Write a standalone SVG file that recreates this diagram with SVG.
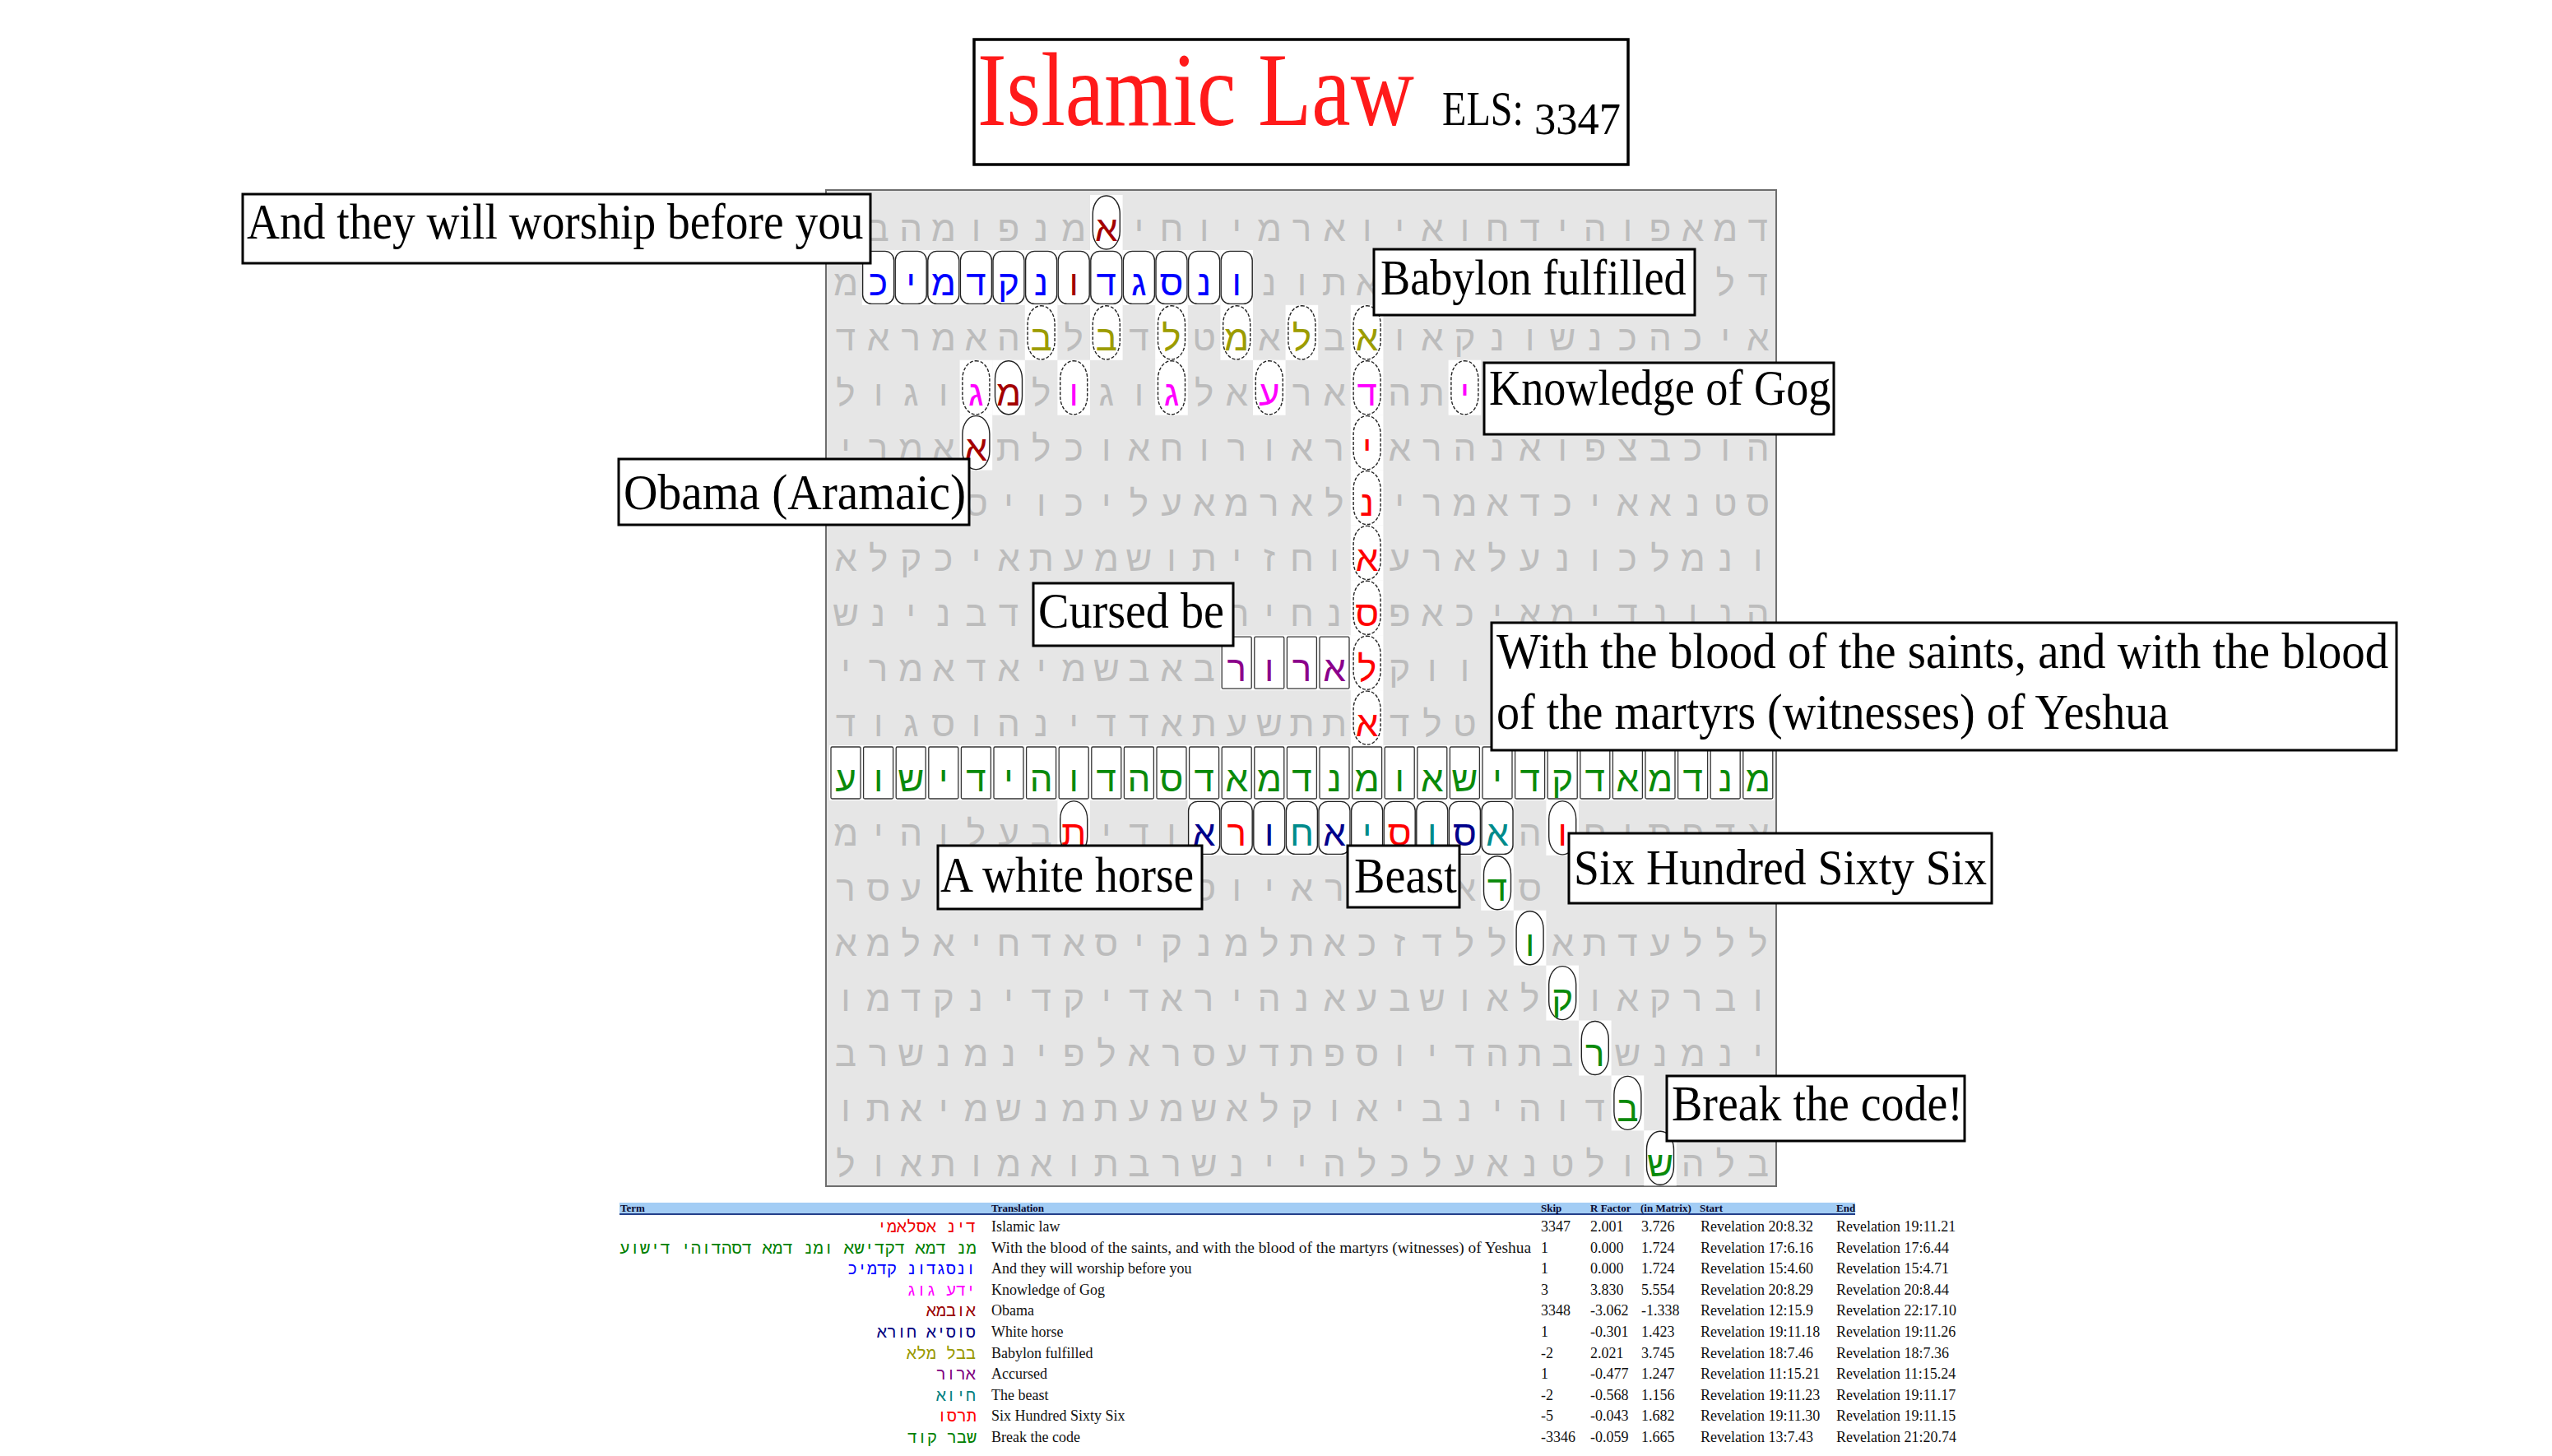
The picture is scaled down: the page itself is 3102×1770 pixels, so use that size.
<svg xmlns="http://www.w3.org/2000/svg" xmlns:xlink="http://www.w3.org/1999/xlink" width="3102" height="1770" viewBox="0 0 3102 1770">
<style>
.gl{font-family:"Liberation Sans","DejaVu Sans",sans-serif;font-size:44px;text-anchor:middle;fill:#bcbcbc}
.R{fill:#ff0000}.O{fill:#a30000}.B{fill:#0000ff}.Y{fill:#9c9c00}.M{fill:#ff00ff}.P{fill:#8b008b}.G{fill:#0a8a0a}.N{fill:#00008b}.T{fill:#008b8b}
.lb{fill:#fff;stroke:#000;stroke-width:3}
.lt{font-family:"Liberation Serif",serif;font-size:62px;fill:#000}
.tb{font-family:"Liberation Serif",serif;font-size:18px;fill:#111}
.th{font-family:"Liberation Serif",serif;font-size:13px;font-weight:bold;fill:#0a0a30}
.hb{font-family:"Liberation Mono","DejaVu Sans Mono",monospace;font-size:20px;text-anchor:end}
</style>
<defs>
<g id="ov"><rect x="-19.8" y="-33.5" width="39.6" height="67" fill="#fff"/><rect x="-16.5" y="-32.5" width="33" height="65" rx="16" ry="22" fill="none" stroke="#222" stroke-width="1.4"/></g>
<g id="od"><rect x="-19.8" y="-33.5" width="39.6" height="67" fill="#fff"/><rect x="-16.5" y="-32.5" width="33" height="65" rx="16" ry="22" fill="none" stroke="#222" stroke-width="1.4" stroke-dasharray="4 2"/></g>
<g id="bx"><rect x="-19.8" y="-33.5" width="39.6" height="67" fill="#fff"/><rect x="-18" y="-31.5" width="36" height="63" rx="1.5" fill="none" stroke="#333" stroke-width="1.3"/></g>
<g id="rb"><rect x="-19.8" y="-33.5" width="39.6" height="67" fill="#fff"/><rect x="-19" y="-32" width="38" height="64" rx="11" fill="none" stroke="#222" stroke-width="1.4"/></g>
</defs>
<rect width="3102" height="1770" fill="#fff"/>

<g id="title">
<rect x="1184" y="48" width="795" height="152" fill="#fff" stroke="#000" stroke-width="3.5"/>
<text transform="translate(1188,152) scale(0.841,1)" font-family="Liberation Serif,serif" font-size="127" fill="#ff1a1a">Islamic Law</text>
<text transform="translate(1753,152) scale(0.802,1)" font-family="Liberation Serif,serif" font-size="60" fill="#000">ELS:</text>
<text transform="translate(1865,163) scale(0.9375,1)" font-family="Liberation Serif,serif" font-size="56" fill="#000">3347</text>
</g>

<g id="matrix">
<rect x="1004" y="231" width="1155" height="1211" fill="#e6e6e6" stroke="#6e6e6e" stroke-width="2"/>
<g id="highlights">
<use xlink:href="#ov" x="1344.8" y="270.5"/>
<use xlink:href="#rb" x="1067.6" y="337.4"/><use xlink:href="#rb" x="1107.2" y="337.4"/><use xlink:href="#rb" x="1146.8" y="337.4"/><use xlink:href="#rb" x="1186.4" y="337.4"/><use xlink:href="#rb" x="1226" y="337.4"/><use xlink:href="#rb" x="1265.6" y="337.4"/><use xlink:href="#rb" x="1305.2" y="337.4"/><use xlink:href="#rb" x="1344.8" y="337.4"/><use xlink:href="#rb" x="1384.4" y="337.4"/><use xlink:href="#rb" x="1424" y="337.4"/><use xlink:href="#rb" x="1463.6" y="337.4"/><use xlink:href="#rb" x="1503.2" y="337.4"/>
<use xlink:href="#od" x="1265.6" y="404.3"/><use xlink:href="#od" x="1344.8" y="404.3"/><use xlink:href="#od" x="1424" y="404.3"/><use xlink:href="#od" x="1503.2" y="404.3"/><use xlink:href="#od" x="1582.4" y="404.3"/><use xlink:href="#od" x="1661.6" y="404.3"/>
<use xlink:href="#od" x="1186.4" y="471.2"/><use xlink:href="#ov" x="1226" y="471.2"/><use xlink:href="#od" x="1305.2" y="471.2"/><use xlink:href="#od" x="1424" y="471.2"/><use xlink:href="#od" x="1542.8" y="471.2"/><use xlink:href="#od" x="1661.6" y="471.2"/><use xlink:href="#od" x="1780.4" y="471.2"/>
<use xlink:href="#ov" x="1186.4" y="538.1"/><use xlink:href="#od" x="1661.6" y="538.1"/>
<use xlink:href="#od" x="1661.6" y="605"/><use xlink:href="#od" x="1661.6" y="671.9"/><use xlink:href="#od" x="1661.6" y="738.8"/><use xlink:href="#od" x="1661.6" y="805.7"/><use xlink:href="#od" x="1661.6" y="872.6"/>
<use xlink:href="#bx" x="1503.2" y="805.7"/><use xlink:href="#bx" x="1542.8" y="805.7"/><use xlink:href="#bx" x="1582.4" y="805.7"/><use xlink:href="#bx" x="1622" y="805.7"/>
<use xlink:href="#bx" x="1028" y="939.5"/><use xlink:href="#bx" x="1067.6" y="939.5"/><use xlink:href="#bx" x="1107.2" y="939.5"/><use xlink:href="#bx" x="1146.8" y="939.5"/><use xlink:href="#bx" x="1186.4" y="939.5"/><use xlink:href="#bx" x="1226" y="939.5"/><use xlink:href="#bx" x="1265.6" y="939.5"/><use xlink:href="#bx" x="1305.2" y="939.5"/><use xlink:href="#bx" x="1344.8" y="939.5"/><use xlink:href="#bx" x="1384.4" y="939.5"/><use xlink:href="#bx" x="1424" y="939.5"/><use xlink:href="#bx" x="1463.6" y="939.5"/><use xlink:href="#bx" x="1503.2" y="939.5"/><use xlink:href="#bx" x="1542.8" y="939.5"/><use xlink:href="#bx" x="1582.4" y="939.5"/><use xlink:href="#bx" x="1622" y="939.5"/><use xlink:href="#bx" x="1661.6" y="939.5"/><use xlink:href="#bx" x="1701.2" y="939.5"/><use xlink:href="#bx" x="1740.8" y="939.5"/><use xlink:href="#bx" x="1780.4" y="939.5"/><use xlink:href="#bx" x="1820" y="939.5"/><use xlink:href="#bx" x="1859.6" y="939.5"/><use xlink:href="#bx" x="1899.2" y="939.5"/><use xlink:href="#bx" x="1938.8" y="939.5"/><use xlink:href="#bx" x="1978.4" y="939.5"/><use xlink:href="#bx" x="2018" y="939.5"/><use xlink:href="#bx" x="2057.6" y="939.5"/><use xlink:href="#bx" x="2097.2" y="939.5"/><use xlink:href="#bx" x="2136.8" y="939.5"/>
<use xlink:href="#ov" x="1305.2" y="1006.4"/>
<use xlink:href="#rb" x="1463.6" y="1006.4"/><use xlink:href="#rb" x="1503.2" y="1006.4"/><use xlink:href="#rb" x="1542.8" y="1006.4"/><use xlink:href="#rb" x="1582.4" y="1006.4"/><use xlink:href="#rb" x="1622" y="1006.4"/><use xlink:href="#rb" x="1661.6" y="1006.4"/><use xlink:href="#rb" x="1701.2" y="1006.4"/><use xlink:href="#rb" x="1740.8" y="1006.4"/><use xlink:href="#rb" x="1780.4" y="1006.4"/><use xlink:href="#rb" x="1820" y="1006.4"/>
<use xlink:href="#ov" x="1899.2" y="1006.4"/>
<use xlink:href="#ov" x="1820" y="1073.3"/><use xlink:href="#ov" x="1859.6" y="1140.2"/><use xlink:href="#ov" x="1899.2" y="1207.1"/><use xlink:href="#ov" x="1938.8" y="1274"/><use xlink:href="#ov" x="1978.4" y="1340.9"/><use xlink:href="#ov" x="2018" y="1407.8"/>
</g>
<g class="gl">
<g transform="translate(0,292.5)"><text x="1067.6">ב</text><text x="1107.2">ה</text><text x="1146.8">מ</text><text x="1186.4">ו</text><text x="1226">פ</text><text x="1265.6">נ</text><text x="1305.2">מ</text><text x="1344.8" class="O">א</text><text x="1384.4">י</text><text x="1424">ח</text><text x="1463.6">ו</text><text x="1503.2">י</text><text x="1542.8">מ</text><text x="1582.4">ר</text><text x="1622">א</text><text x="1661.6">ו</text><text x="1701.2">י</text><text x="1740.8">א</text><text x="1780.4">ו</text><text x="1820">ח</text><text x="1859.6">ד</text><text x="1899.2">י</text><text x="1938.8">ה</text><text x="1978.4">ו</text><text x="2018">פ</text><text x="2057.6">א</text><text x="2097.2">מ</text><text x="2136.8">ד</text></g>
<g transform="translate(0,359.4)"><text x="1028">מ</text><text x="1067.6" class="B">כ</text><text x="1107.2" class="B">י</text><text x="1146.8" class="B">מ</text><text x="1186.4" class="B">ד</text><text x="1226" class="B">ק</text><text x="1265.6" class="B">נ</text><text x="1305.2" class="O">ו</text><text x="1344.8" class="B">ד</text><text x="1384.4" class="B">ג</text><text x="1424" class="B">ס</text><text x="1463.6" class="B">נ</text><text x="1503.2" class="B">ו</text><text x="1542.8">נ</text><text x="1582.4">ו</text><text x="1622">ת</text><text x="1661.6">א</text><text x="2057.6">ו</text><text x="2097.2">ל</text><text x="2136.8">ד</text></g>
<g transform="translate(0,426.3)"><text x="1028">ד</text><text x="1067.6">א</text><text x="1107.2">ר</text><text x="1146.8">מ</text><text x="1186.4">א</text><text x="1226">ה</text><text x="1265.6" class="Y">ב</text><text x="1305.2">ל</text><text x="1344.8" class="Y">ב</text><text x="1384.4">ד</text><text x="1424" class="Y">ל</text><text x="1463.6">ט</text><text x="1503.2" class="Y">מ</text><text x="1542.8">א</text><text x="1582.4" class="Y">ל</text><text x="1622">ב</text><text x="1661.6" class="Y">א</text><text x="1701.2">ו</text><text x="1740.8">א</text><text x="1780.4">ק</text><text x="1820">נ</text><text x="1859.6">ו</text><text x="1899.2">ש</text><text x="1938.8">נ</text><text x="1978.4">כ</text><text x="2018">ה</text><text x="2057.6">כ</text><text x="2097.2">י</text><text x="2136.8">א</text></g>
<g transform="translate(0,493.2)"><text x="1028">ל</text><text x="1067.6">ו</text><text x="1107.2">ג</text><text x="1146.8">ו</text><text x="1186.4" class="M">ג</text><text x="1226" class="O">מ</text><text x="1265.6">ל</text><text x="1305.2" class="M">ו</text><text x="1344.8">ג</text><text x="1384.4">ו</text><text x="1424" class="M">ג</text><text x="1463.6">ל</text><text x="1503.2">א</text><text x="1542.8" class="M">ע</text><text x="1582.4">ר</text><text x="1622">א</text><text x="1661.6" class="M">ד</text><text x="1701.2">ה</text><text x="1740.8">ת</text><text x="1780.4" class="M">י</text></g>
<g transform="translate(0,560.1)"><text x="1028">י</text><text x="1067.6">ר</text><text x="1107.2">מ</text><text x="1146.8">א</text><text x="1186.4" class="O">א</text><text x="1226">ת</text><text x="1265.6">ל</text><text x="1305.2">כ</text><text x="1344.8">ו</text><text x="1384.4">א</text><text x="1424">ח</text><text x="1463.6">ו</text><text x="1503.2">ר</text><text x="1542.8">ו</text><text x="1582.4">א</text><text x="1622">ר</text><text x="1661.6" class="R">י</text><text x="1701.2">א</text><text x="1740.8">ר</text><text x="1780.4">ה</text><text x="1820">נ</text><text x="1859.6">א</text><text x="1899.2">ו</text><text x="1938.8">פ</text><text x="1978.4">צ</text><text x="2018">ב</text><text x="2057.6">כ</text><text x="2097.2">ו</text><text x="2136.8">ה</text></g>
<g transform="translate(0,627)"><text x="1186.4">ס</text><text x="1226">י</text><text x="1265.6">ו</text><text x="1305.2">כ</text><text x="1344.8">י</text><text x="1384.4">ל</text><text x="1424">ע</text><text x="1463.6">א</text><text x="1503.2">מ</text><text x="1542.8">ר</text><text x="1582.4">א</text><text x="1622">ל</text><text x="1661.6" class="R">נ</text><text x="1701.2">י</text><text x="1740.8">ר</text><text x="1780.4">מ</text><text x="1820">א</text><text x="1859.6">ד</text><text x="1899.2">כ</text><text x="1938.8">י</text><text x="1978.4">א</text><text x="2018">א</text><text x="2057.6">נ</text><text x="2097.2">ט</text><text x="2136.8">ס</text></g>
<g transform="translate(0,693.9)"><text x="1028">א</text><text x="1067.6">ל</text><text x="1107.2">ק</text><text x="1146.8">כ</text><text x="1186.4">י</text><text x="1226">א</text><text x="1265.6">ת</text><text x="1305.2">ע</text><text x="1344.8">מ</text><text x="1384.4">ש</text><text x="1424">ו</text><text x="1463.6">ת</text><text x="1503.2">י</text><text x="1542.8">ז</text><text x="1582.4">ח</text><text x="1622">ו</text><text x="1661.6" class="R">א</text><text x="1701.2">ע</text><text x="1740.8">ר</text><text x="1780.4">א</text><text x="1820">ל</text><text x="1859.6">ע</text><text x="1899.2">נ</text><text x="1938.8">ו</text><text x="1978.4">כ</text><text x="2018">ל</text><text x="2057.6">מ</text><text x="2097.2">נ</text><text x="2136.8">ו</text></g>
<g transform="translate(0,760.8)"><text x="1028">ש</text><text x="1067.6">נ</text><text x="1107.2">י</text><text x="1146.8">נ</text><text x="1186.4">ב</text><text x="1226">ד</text><text x="1503.2">ת</text><text x="1542.8">י</text><text x="1582.4">ח</text><text x="1622">נ</text><text x="1661.6" class="R">ס</text><text x="1701.2">פ</text><text x="1740.8">א</text><text x="1780.4">כ</text><text x="1820">י</text><text x="1859.6">א</text><text x="1899.2">מ</text><text x="1938.8">י</text><text x="1978.4">ד</text><text x="2018">נ</text><text x="2057.6">ו</text><text x="2097.2">נ</text><text x="2136.8">ה</text></g>
<g transform="translate(0,827.7)"><text x="1028">י</text><text x="1067.6">ר</text><text x="1107.2">מ</text><text x="1146.8">א</text><text x="1186.4">ד</text><text x="1226">א</text><text x="1265.6">י</text><text x="1305.2">מ</text><text x="1344.8">ש</text><text x="1384.4">ב</text><text x="1424">א</text><text x="1463.6">ב</text><text x="1503.2" class="P">ר</text><text x="1542.8" class="P">ו</text><text x="1582.4" class="P">ר</text><text x="1622" class="P">א</text><text x="1661.6" class="R">ל</text><text x="1701.2">ק</text><text x="1740.8">ו</text><text x="1780.4">ו</text></g>
<g transform="translate(0,894.6)"><text x="1028">ד</text><text x="1067.6">ו</text><text x="1107.2">ג</text><text x="1146.8">ס</text><text x="1186.4">ו</text><text x="1226">ה</text><text x="1265.6">נ</text><text x="1305.2">י</text><text x="1344.8">ד</text><text x="1384.4">ד</text><text x="1424">א</text><text x="1463.6">ת</text><text x="1503.2">ע</text><text x="1542.8">ש</text><text x="1582.4">ת</text><text x="1622">ת</text><text x="1661.6" class="R">א</text><text x="1701.2">ד</text><text x="1740.8">ל</text><text x="1780.4">ט</text></g>
<g transform="translate(0,961.5)" class="G"><text x="1028">ע</text><text x="1067.6">ו</text><text x="1107.2">ש</text><text x="1146.8">י</text><text x="1186.4">ד</text><text x="1226">י</text><text x="1265.6">ה</text><text x="1305.2">ו</text><text x="1344.8">ד</text><text x="1384.4">ה</text><text x="1424">ס</text><text x="1463.6">ד</text><text x="1503.2">א</text><text x="1542.8">מ</text><text x="1582.4">ד</text><text x="1622">נ</text><text x="1661.6">מ</text><text x="1701.2">ו</text><text x="1740.8">א</text><text x="1780.4">ש</text><text x="1820">י</text><text x="1859.6">ד</text><text x="1899.2">ק</text><text x="1938.8">ד</text><text x="1978.4">א</text><text x="2018">מ</text><text x="2057.6">ד</text><text x="2097.2">נ</text><text x="2136.8">מ</text></g>
<g transform="translate(0,1028.4)"><text x="1028">מ</text><text x="1067.6">י</text><text x="1107.2">ה</text><text x="1146.8">ו</text><text x="1186.4">ל</text><text x="1226">ע</text><text x="1265.6">ב</text><text x="1305.2" class="R">ת</text><text x="1344.8">י</text><text x="1384.4">ד</text><text x="1424">ו</text><text x="1463.6" class="N">א</text><text x="1503.2" class="R">ר</text><text x="1542.8" class="N">ו</text><text x="1582.4" class="T">ח</text><text x="1622" class="N">א</text><text x="1661.6" class="T">י</text><text x="1701.2" class="R">ס</text><text x="1740.8" class="T">ו</text><text x="1780.4" class="N">ס</text><text x="1820" class="T">א</text><text x="1859.6">ה</text><text x="1899.2" class="R">ו</text><text x="1938.8">ח</text><text x="1978.4">י</text><text x="2018">ת</text><text x="2057.6">פ</text><text x="2097.2">ד</text><text x="2136.8">א</text></g>
<g transform="translate(0,1095.3)"><text x="1028">ר</text><text x="1067.6">ס</text><text x="1107.2">ע</text><text x="1463.6">ס</text><text x="1503.2">ו</text><text x="1542.8">י</text><text x="1582.4">א</text><text x="1622">ר</text><text x="1780.4">א</text><text x="1820" class="G">ד</text><text x="1859.6">ס</text></g>
<g transform="translate(0,1162.2)"><text x="1028">א</text><text x="1067.6">מ</text><text x="1107.2">ל</text><text x="1146.8">א</text><text x="1186.4">י</text><text x="1226">ח</text><text x="1265.6">ד</text><text x="1305.2">א</text><text x="1344.8">ס</text><text x="1384.4">י</text><text x="1424">ק</text><text x="1463.6">נ</text><text x="1503.2">מ</text><text x="1542.8">ל</text><text x="1582.4">ת</text><text x="1622">א</text><text x="1661.6">כ</text><text x="1701.2">ז</text><text x="1740.8">ד</text><text x="1780.4">ל</text><text x="1820">ל</text><text x="1859.6" class="G">ו</text><text x="1899.2">א</text><text x="1938.8">ת</text><text x="1978.4">ד</text><text x="2018">ע</text><text x="2057.6">ל</text><text x="2097.2">ל</text><text x="2136.8">ל</text></g>
<g transform="translate(0,1229.1)"><text x="1028">ו</text><text x="1067.6">מ</text><text x="1107.2">ד</text><text x="1146.8">ק</text><text x="1186.4">נ</text><text x="1226">י</text><text x="1265.6">ד</text><text x="1305.2">ק</text><text x="1344.8">י</text><text x="1384.4">ד</text><text x="1424">א</text><text x="1463.6">ר</text><text x="1503.2">י</text><text x="1542.8">ה</text><text x="1582.4">נ</text><text x="1622">א</text><text x="1661.6">ע</text><text x="1701.2">ב</text><text x="1740.8">ש</text><text x="1780.4">ו</text><text x="1820">א</text><text x="1859.6">ל</text><text x="1899.2" class="G">ק</text><text x="1938.8">ו</text><text x="1978.4">א</text><text x="2018">ק</text><text x="2057.6">ר</text><text x="2097.2">ב</text><text x="2136.8">ו</text></g>
<g transform="translate(0,1296)"><text x="1028">ב</text><text x="1067.6">ר</text><text x="1107.2">ש</text><text x="1146.8">נ</text><text x="1186.4">מ</text><text x="1226">נ</text><text x="1265.6">י</text><text x="1305.2">פ</text><text x="1344.8">ל</text><text x="1384.4">א</text><text x="1424">ר</text><text x="1463.6">ס</text><text x="1503.2">ע</text><text x="1542.8">ד</text><text x="1582.4">ת</text><text x="1622">פ</text><text x="1661.6">ס</text><text x="1701.2">ו</text><text x="1740.8">י</text><text x="1780.4">ד</text><text x="1820">ה</text><text x="1859.6">ת</text><text x="1899.2">ב</text><text x="1938.8" class="G">ר</text><text x="1978.4">ש</text><text x="2018">נ</text><text x="2057.6">מ</text><text x="2097.2">נ</text><text x="2136.8">י</text></g>
<g transform="translate(0,1362.9)"><text x="1028">ו</text><text x="1067.6">ת</text><text x="1107.2">א</text><text x="1146.8">י</text><text x="1186.4">מ</text><text x="1226">ש</text><text x="1265.6">נ</text><text x="1305.2">מ</text><text x="1344.8">ת</text><text x="1384.4">ע</text><text x="1424">מ</text><text x="1463.6">ש</text><text x="1503.2">א</text><text x="1542.8">ל</text><text x="1582.4">ק</text><text x="1622">ו</text><text x="1661.6">א</text><text x="1701.2">י</text><text x="1740.8">ב</text><text x="1780.4">נ</text><text x="1820">י</text><text x="1859.6">ה</text><text x="1899.2">ו</text><text x="1938.8">ד</text><text x="1978.4" class="G">ב</text></g>
<g transform="translate(0,1429.8)"><text x="1028">ל</text><text x="1067.6">ו</text><text x="1107.2">א</text><text x="1146.8">ת</text><text x="1186.4">ו</text><text x="1226">מ</text><text x="1265.6">א</text><text x="1305.2">ו</text><text x="1344.8">ת</text><text x="1384.4">ב</text><text x="1424">ר</text><text x="1463.6">ש</text><text x="1503.2">נ</text><text x="1542.8">י</text><text x="1582.4">י</text><text x="1622">ה</text><text x="1661.6">ל</text><text x="1701.2">כ</text><text x="1740.8">ל</text><text x="1780.4">ע</text><text x="1820">א</text><text x="1859.6">נ</text><text x="1899.2">ט</text><text x="1938.8">ל</text><text x="1978.4">ו</text><text x="2018" class="G">ש</text><text x="2057.6">ה</text><text x="2097.2">ל</text><text x="2136.8">ב</text></g>
</g>
</g>

<g id="connectors"/>

<g id="label-worship"><rect class="lb" x="295" y="236" width="763" height="84"/><text class="lt" transform="translate(300,290) scale(0.894,1)" font-size="66">And they will worship before you</text></g>
<g id="label-babylon"><rect class="lb" x="1670" y="303" width="390" height="80"/><text class="lt" transform="translate(1678,358) scale(0.874,1)">Babylon fulfilled</text></g>
<g id="label-gog"><rect class="lb" x="1804" y="441" width="425" height="87"/><text class="lt" transform="translate(1810,492) scale(0.874,1)" font-size="64">Knowledge of Gog</text></g>
<g id="label-obama"><rect class="lb" x="752" y="558" width="426" height="80"/><text class="lt" transform="translate(758,619) scale(0.926,1)" font-size="64">Obama (Aramaic)</text></g>
<g id="label-cursed"><rect class="lb" x="1256" y="709" width="243" height="76"/><text class="lt" transform="translate(1262,763) scale(0.905,1)">Cursed be</text></g>
<g id="label-blood"><rect class="lb" x="1813" y="757" width="1100" height="155"/><text class="lt" transform="translate(1819,812) scale(0.92,1)">With the blood of the saints, and with the blood</text><text class="lt" transform="translate(1819,886) scale(0.906,1)">of the martyrs (witnesses) of Yeshua</text></g>
<g id="label-horse"><rect class="lb" x="1140" y="1028" width="321" height="77"/><text class="lt" transform="translate(1143,1084) scale(0.895,1)">A white horse</text></g>
<g id="label-beast"><rect class="lb" x="1638" y="1028" width="136" height="75"/><text class="lt" transform="translate(1646,1085) scale(0.906,1)">Beast</text></g>
<g id="label-666"><rect class="lb" x="1907" y="1013" width="514" height="85"/><text class="lt" transform="translate(1913,1075) scale(0.897,1)">Six Hundred Sixty Six</text></g>
<g id="label-code"><rect class="lb" x="2026" y="1308" width="362" height="79"/><text class="lt" transform="translate(2032,1362) scale(0.902,1)">Break the code!</text></g>

<g id="table">
<rect x="753" y="1462" width="1502" height="14" fill="#a3cdf5"/>
<line x1="753" y1="1476" x2="2255" y2="1476" stroke="#24408a" stroke-width="2"/>
<text class="th" x="754" y="1473">Term</text><text class="th" x="1205" y="1473">Translation</text><text class="th" x="1873" y="1473">Skip</text><text class="th" x="1933" y="1473">R Factor</text><text class="th" x="1994" y="1473">(in Matrix)</text><text class="th" x="2066" y="1473">Start</text><text class="th" x="2232" y="1473">End</text>
<g class="hb">
<text x="1186" y="1498" fill="#ee0000">דינ אסלאמי</text>
<text x="1187" y="1523.6" fill="#008000" textLength="434" lengthAdjust="spacingAndGlyphs">מנ דמא דקדישא ומנ דמא דסהדוהי דישוע</text>
<text x="1186" y="1549.2" fill="#0000ff">ונסגדונ קדמיכ</text>
<text x="1186" y="1574.8" fill="#ff00ff">ידע גוג</text>
<text x="1186" y="1600.4" fill="#990000">אובמא</text>
<text x="1186" y="1626" fill="#000080">סוסיא חורא</text>
<text x="1186" y="1651.6" fill="#999900">בבל מלא</text>
<text x="1186" y="1677.2" fill="#800080">ארור</text>
<text x="1186" y="1702.8" fill="#008080">חיוא</text>
<text x="1187" y="1728.4" fill="#ff0000">תרסו</text>
<text x="1187" y="1754" fill="#008000">שבר קוד</text>
</g>
<g class="tb">
<text x="1205" y="1497">Islamic law</text><text x="1873" y="1497">3347</text><text x="1933" y="1497">2.001</text><text x="1995" y="1497">3.726</text><text x="2067" y="1497">Revelation 20:8.32</text><text x="2232" y="1497">Revelation 19:11.21</text>
<text x="1205" y="1522.6" textLength="656" lengthAdjust="spacingAndGlyphs">With the blood of the saints, and with the blood of the martyrs (witnesses) of Yeshua</text><text x="1873" y="1522.6">1</text><text x="1933" y="1522.6">0.000</text><text x="1995" y="1522.6">1.724</text><text x="2067" y="1522.6">Revelation 17:6.16</text><text x="2232" y="1522.6">Revelation 17:6.44</text>
<text x="1205" y="1548.2">And they will worship before you</text><text x="1873" y="1548.2">1</text><text x="1933" y="1548.2">0.000</text><text x="1995" y="1548.2">1.724</text><text x="2067" y="1548.2">Revelation 15:4.60</text><text x="2232" y="1548.2">Revelation 15:4.71</text>
<text x="1205" y="1573.8">Knowledge of Gog</text><text x="1873" y="1573.8">3</text><text x="1933" y="1573.8">3.830</text><text x="1995" y="1573.8">5.554</text><text x="2067" y="1573.8">Revelation 20:8.29</text><text x="2232" y="1573.8">Revelation 20:8.44</text>
<text x="1205" y="1599.4">Obama</text><text x="1873" y="1599.4">3348</text><text x="1933" y="1599.4">-3.062</text><text x="1995" y="1599.4">-1.338</text><text x="2067" y="1599.4">Revelation 12:15.9</text><text x="2232" y="1599.4">Revelation 22:17.10</text>
<text x="1205" y="1625">White horse</text><text x="1873" y="1625">1</text><text x="1933" y="1625">-0.301</text><text x="1995" y="1625">1.423</text><text x="2067" y="1625">Revelation 19:11.18</text><text x="2232" y="1625">Revelation 19:11.26</text>
<text x="1205" y="1650.6">Babylon fulfilled</text><text x="1873" y="1650.6">-2</text><text x="1933" y="1650.6">2.021</text><text x="1995" y="1650.6">3.745</text><text x="2067" y="1650.6">Revelation 18:7.46</text><text x="2232" y="1650.6">Revelation 18:7.36</text>
<text x="1205" y="1676.2">Accursed</text><text x="1873" y="1676.2">1</text><text x="1933" y="1676.2">-0.477</text><text x="1995" y="1676.2">1.247</text><text x="2067" y="1676.2">Revelation 11:15.21</text><text x="2232" y="1676.2">Revelation 11:15.24</text>
<text x="1205" y="1701.8">The beast</text><text x="1873" y="1701.8">-2</text><text x="1933" y="1701.8">-0.568</text><text x="1995" y="1701.8">1.156</text><text x="2067" y="1701.8">Revelation 19:11.23</text><text x="2232" y="1701.8">Revelation 19:11.17</text>
<text x="1205" y="1727.4">Six Hundred Sixty Six</text><text x="1873" y="1727.4">-5</text><text x="1933" y="1727.4">-0.043</text><text x="1995" y="1727.4">1.682</text><text x="2067" y="1727.4">Revelation 19:11.30</text><text x="2232" y="1727.4">Revelation 19:11.15</text>
<text x="1205" y="1753">Break the code</text><text x="1873" y="1753">-3346</text><text x="1933" y="1753">-0.059</text><text x="1995" y="1753">1.665</text><text x="2067" y="1753">Revelation 13:7.43</text><text x="2232" y="1753">Revelation 21:20.74</text>
</g>
</g>
</svg>
